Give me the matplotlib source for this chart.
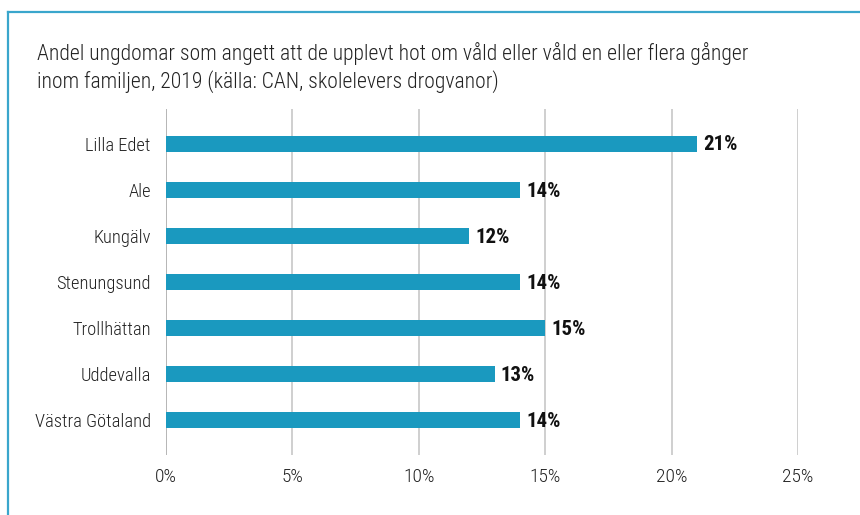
import matplotlib
matplotlib.use("Agg")
import matplotlib.pyplot as plt
from matplotlib.lines import Line2D

categories = ["Lilla Edet", "Ale", "Kungälv", "Stenungsund", "Trollhättan", "Uddevalla", "Västra Götaland"]
values = [21, 14, 12, 14, 15, 13, 14]
value_labels = ["21%", "14%", "12%", "14%", "15%", "13%", "14%"]
xticks = [0, 5, 10, 15, 20, 25]
xtick_labels = ["0%", "5%", "10%", "15%", "20%", "25%"]
title = "Andel ungdomar som angett att de upplevt hot om våld eller våld en eller flera gånger\ninom familjen, 2019 (källa: CAN, skolelevers drogvanor)"

FONTS = ["Liberation Sans Narrow", "Roboto Condensed", "Roboto", "DejaVu Sans"]
plt.rcParams["font.family"] = FONTS

W, H = 860, 515
fig = plt.figure(figsize=(W / 100, H / 100), dpi=100)
fig.patch.set_facecolor("white")

ax = fig.add_axes([166 / W, 1 - 455 / H, (798 - 166) / W, (455 - 109) / H])
ypos = list(range(len(categories)))
ax.barh(ypos, values, height=0.35, color="#1a99bf", zorder=3)
for y, v, lab in zip(ypos, values, value_labels):
    ax.annotate(lab, (v, y), xytext=(4.5, -1), textcoords="offset points",
                ha="left", va="center", fontsize=15, fontweight="bold", color="#111111")

ax.set_xlim(0, 25)
ax.set_ylim(6.75, -0.75)
ax.set_xticks(xticks)
ax.set_xticklabels(xtick_labels, fontweight="light")
ax.set_yticks(ypos)
ax.set_yticklabels(categories, fontweight="light")
ax.tick_params(axis="x", length=0, pad=9, labelsize=14, labelcolor="#222222")
ax.tick_params(axis="y", length=0, pad=11, labelsize=13.3, labelcolor="#222222")
for s in ax.spines.values():
    s.set_visible(False)
ax.xaxis.grid(True, color="#cccccc", linewidth=1.3, zorder=0)
ax.get_xgridlines()[0].set_color("#b0b0b0")

fig.text(37 / W, 1 - 42 / H, title, ha="left", va="top", fontsize=15.6, fontweight="light",
         color="#222222", linespacing=1.27)

fig.add_artist(Line2D([8 / W, 8 / W], [0, 1 - 12 / H], transform=fig.transFigure, color="#3aa6cc", linewidth=1.6))
fig.add_artist(Line2D([8 / W, 1], [1 - 12 / H, 1 - 12 / H], transform=fig.transFigure, color="#3aa6cc", linewidth=1.6))

fig.savefig("out.png", dpi=100, facecolor="white")
